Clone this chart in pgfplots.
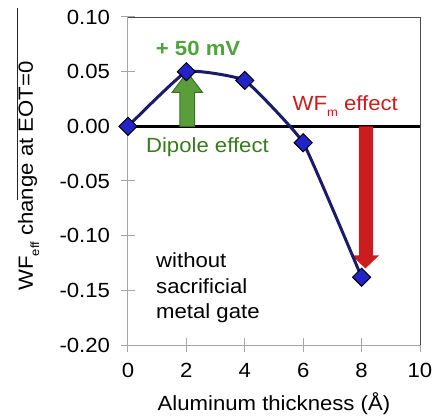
\documentclass[border=0pt]{standalone}
\usepackage{fontspec}
\setmainfont{Liberation Sans}[FakeStretch=1.08]
\usepackage{pgfplots}
\pgfplotsset{compat=1.18}
\definecolor{navyline}{HTML}{1B1A6B}
\definecolor{markblue}{HTML}{2323C8}
\definecolor{arrowgreen}{HTML}{5A9E3C}
\definecolor{darkgreen}{HTML}{3C6E24}
\definecolor{textgreen}{HTML}{4EA33B}
\definecolor{dipolegreen}{HTML}{3A7A1E}
\definecolor{arrowred}{HTML}{CC1C1E}
\newcommand\sub[1]{\raisebox{-0.3em}{\fontsize{12bp}{12bp}\selectfont #1}}

\begin{document}
\fontsize{20.5bp}{25.5bp}\selectfont
\begin{tikzpicture}
\useasboundingbox (-128bp,-74bp) rectangle (310bp,345bp);
\begin{axis}[
    scale only axis, width=292bp, height=328bp,
    at={(0,0)}, anchor=south west,
    xmin=0, xmax=10, ymin=-0.2, ymax=0.1,
    xtick={0,2,4,6,8,10}, xticklabels={0,2,4,6,8,10},
    ytick={-0.2,-0.15,-0.1,-0.05,0,0.05,0.1},
    yticklabels={-0.20,-0.15,-0.10,-0.05,0.00,0.05,0.10},
    axis lines*=left,
    axis line style={gray!70, line width=1bp, -},
    tick style={gray!70, line width=1bp},
    tick align=center, major tick length=14bp,
    xticklabel style={yshift=-4bp},
    yticklabel style={xshift=-4bp},
    xlabel={Aluminum thickness (Å)},
    xlabel style={at={(axis description cs:0.5,0)}, anchor=base, yshift=-65bp},
    clip=false,
]
% plot frame top/right
\draw[gray!60!black, line width=0.8bp] (rel axis cs:0,1) -- (rel axis cs:1,1) -- (rel axis cs:1,0);
% zero line
\draw[black, line width=2.5bp] (axis cs:0,0) -- (axis cs:10,0);
% WFm arrow
\fill[arrowred] (axis cs:7.91,0) -- (axis cs:7.91,-0.118) -- (axis cs:7.66,-0.118)
  -- (axis cs:8.13,-0.130) -- (axis cs:8.60,-0.118) -- (axis cs:8.39,-0.118)
  -- (axis cs:8.39,0) -- cycle;

\addplot[color=navyline, line width=3bp, smooth, tension=0.2,
  mark=square*, mark size=6.4bp,
  mark options={rotate=45, fill=markblue, draw=black, line width=1bp}]
coordinates {(0,0)(2,0.050)(4,0.042)(6,-0.015)(8,-0.138)};

% dipole arrow
\filldraw[fill=arrowgreen, draw=darkgreen, line width=1bp]
  (axis cs:1.78,0) -- (axis cs:1.78,0.031) -- (axis cs:1.51,0.031)
  -- (axis cs:2.03,0.0495) -- (axis cs:2.55,0.031) -- (axis cs:2.28,0.031)
  -- (axis cs:2.28,0) -- cycle;

\node[text=textgreen, font=\bfseries, anchor=base] at (axis cs:2.4,0.0652) {+ 50 mV};
\node[text=dipolegreen, anchor=base] at (axis cs:2.72,-0.0235) {Dipole effect};
\node[text=arrowred, anchor=base] at (axis cs:7.44,0.0149) {WF\sub{m} effect};
\node[anchor=base west, inner sep=0] at (axis cs:0.96,-0.1287) {without};
\node[anchor=base west, inner sep=0] at (axis cs:0.96,-0.1525) {sacrificial};
\node[anchor=base west, inner sep=0] at (axis cs:0.96,-0.1754) {metal gate};
\end{axis}
\node[rotate=90, anchor=base] at (-95bp,169bp) {WF\sub{eff} change at EOT=0};
\draw[black!85, line width=0.8bp] (-111bp,145bp) -- (-111bp,337bp);
\end{tikzpicture}
\end{document}
